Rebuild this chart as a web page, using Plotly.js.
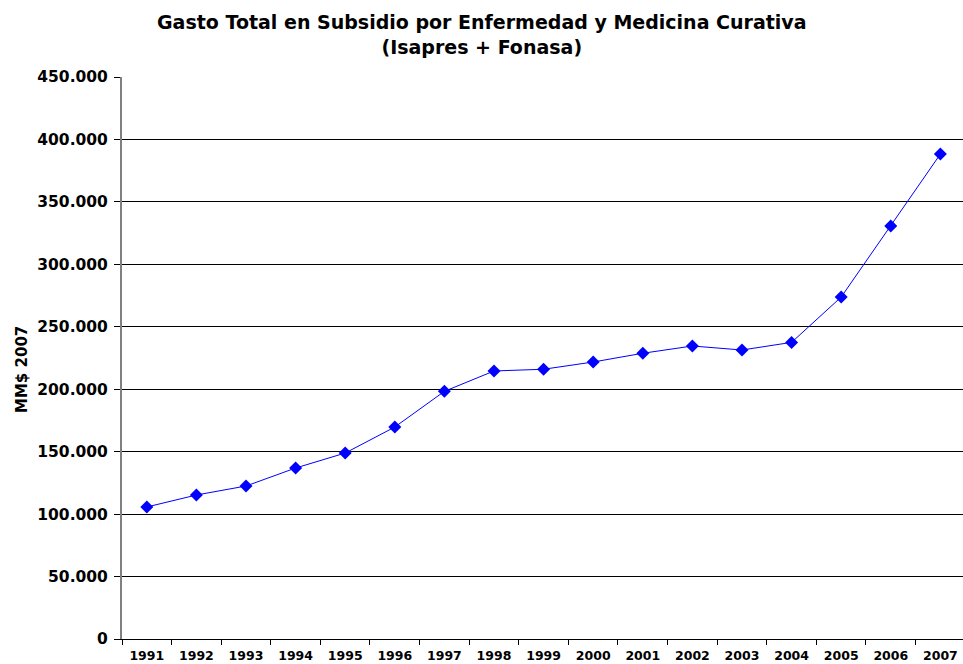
<!DOCTYPE html>
<html>
<head>
<meta charset="utf-8">
<script src="https://cdn.plot.ly/plotly-3.0.1.min.js"></script>
<style>html,body{margin:0;padding:0;background:#fff;}#chart{width:963px;height:664px;}</style>
</head>
<body>
<div id="chart"></div>
<script>
const years = ["1991","1992","1993","1994","1995","1996","1997","1998","1999","2000","2001","2002","2003","2004","2005","2006","2007"];
const gasto = [105700,115300,122500,136900,148900,169700,198300,214600,216000,221800,228800,234600,231400,237500,273800,330700,388300];
const yTicks = [0,50000,100000,150000,200000,250000,300000,350000,400000,450000];

const trace = {
  x: years, y: gasto, type: 'scatter', mode: 'lines+markers',
  line: {color: '#0000FF', width: 1},
  marker: {symbol: 'diamond', color: '#0000FF', size: 10},
  hoverinfo: 'skip'
};
const font = "Verdana, 'DejaVu Sans', sans-serif";
const layout = {
  width: 963, height: 664,
  margin: {l: 122, r: 0, t: 77, b: 25},
  paper_bgcolor: '#fff', plot_bgcolor: '#fff',
  separators: ',.',
  showlegend: false,
  xaxis: {
    type: 'category',
    range: [-0.5, 16.456],
    tickson: 'boundaries',
    ticks: 'outside', ticklen: 5, tickcolor: '#000',
    ticklabelstandoff: 5,
    showgrid: false,
    showline: true, linecolor: '#000', linewidth: 1,
    tickfont: {family: font, size: 12.5, color: '#000', weight: 'bold'},
    fixedrange: true
  },
  yaxis: {
    range: [0, 450000],
    tickvals: yTicks,
    tickformat: ',d',
    ticks: 'outside', ticklen: 6, tickcolor: '#000',
    ticklabelstandoff: 3,
    showgrid: true, gridcolor: '#000', gridwidth: 1,
    showline: true, linecolor: '#808080', linewidth: 2,
    zeroline: false,
    tickfont: {family: font, size: 15.5, color: '#000', weight: 'bold'},
    fixedrange: true
  },
  annotations: [{
    text: '<b>Gasto Total en Subsidio por Enfermedad y Medicina Curativa<br>(Isapres + Fonasa)</b>',
    xref: 'paper', yref: 'paper',
    x: (482 - 122) / 841, y: (639 - 9) / 562,
    xanchor: 'center', yanchor: 'top', showarrow: false, align: 'center',
    font: {family: font, size: 19, color: '#000'}
  }, {
    text: '<b>MM$ 2007</b>', textangle: -90,
    xref: 'paper', yref: 'paper',
    x: (22 - 122) / 841, y: (639 - 370) / 562,
    xanchor: 'center', yanchor: 'middle', showarrow: false,
    font: {family: font, size: 15, color: '#000'}
  }]
};
Plotly.newPlot('chart', [trace], layout, {displayModeBar: false, staticPlot: true});
</script>
</body>
</html>
